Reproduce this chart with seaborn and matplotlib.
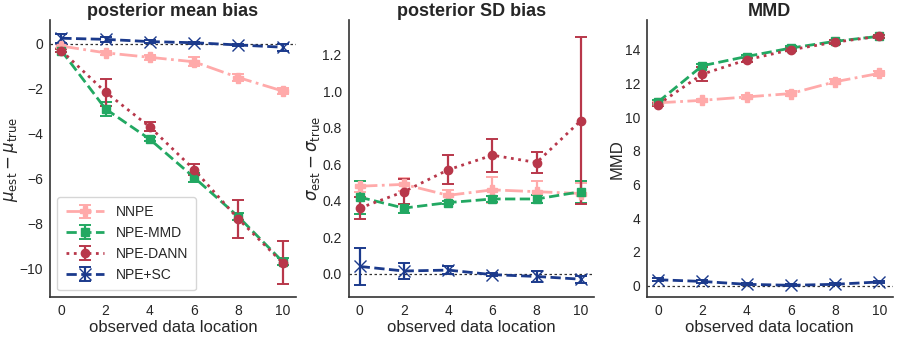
import matplotlib
matplotlib.use("Agg")
import matplotlib.pyplot as plt
import numpy as np
import seaborn as sns

locations = [0, 2, 4, 6, 8, 10]
methods = ["NNPE", "NPE-MMD", "NPE-DANN", "NPE+SC"]

# posterior mean bias (value, error)
mean_bias = {
    "NNPE":     [-0.1, -0.4, -0.6, -0.8, -1.5, -2.1],
    "NPE-MMD":  [-0.3, -2.9, -4.25, -5.95, -7.7, -9.7],
    "NPE-DANN": [-0.3, -2.15, -3.7, -5.6, -7.8, -9.75],
    "NPE+SC":   [0.25, 0.2, 0.1, 0.05, -0.05, -0.15],
}
mean_bias_err = {
    "NNPE":     [0.1, 0.1, 0.1, 0.2, 0.15, 0.12],
    "NPE-MMD":  [0.05, 0.3, 0.1, 0.2, 0.15, 0.15],
    "NPE-DANN": [0.05, 0.6, 0.2, 0.25, 0.85, 0.95],
    "NPE+SC":   [0.2, 0.1, 0.05, 0.05, 0.05, 0.15],
}

# posterior SD bias
sd_bias = {
    "NNPE":     [0.48, 0.49, 0.43, 0.46, 0.45, 0.44],
    "NPE-MMD":  [0.42, 0.36, 0.39, 0.41, 0.41, 0.45],
    "NPE-DANN": [0.36, 0.45, 0.57, 0.65, 0.61, 0.84],
    "NPE+SC":   [0.04, 0.015, 0.02, -0.005, -0.015, -0.03],
}
sd_bias_err = {
    "NNPE":     [0.03, 0.035, 0.03, 0.07, 0.06, 0.06],
    "NPE-MMD":  [0.09, 0.025, 0.01, 0.015, 0.02, 0.06],
    "NPE-DANN": [0.06, 0.07, 0.08, 0.09, 0.06, 0.46],
    "NPE+SC":   [0.1, 0.045, 0.02, 0.01, 0.03, 0.02],
}

# MMD
mmd = {
    "NNPE":     [10.85, 11.0, 11.2, 11.4, 12.1, 12.6],
    "NPE-MMD":  [10.9, 13.05, 13.6, 14.1, 14.5, 14.8],
    "NPE-DANN": [10.75, 12.55, 13.4, 14.0, 14.45, 14.8],
    "NPE+SC":   [0.35, 0.25, 0.08, 0.02, 0.08, 0.22],
}
mmd_err = {
    "NNPE":     [0.1, 0.1, 0.1, 0.15, 0.15, 0.15],
    "NPE-MMD":  [0.1, 0.1, 0.1, 0.1, 0.1, 0.1],
    "NPE-DANN": [0.1, 0.4, 0.1, 0.1, 0.1, 0.1],
    "NPE+SC":   [0.1, 0.08, 0.05, 0.05, 0.05, 0.08],
}

styles = {
    "NNPE":     dict(color="#ffaaaa", marker="P", linestyle="-.", markersize=7),
    "NPE-MMD":  dict(color="#22a862", marker="s", linestyle="--", markersize=6),
    "NPE-DANN": dict(color="#b8374a", marker="o", linestyle=":", markersize=6),
    "NPE+SC":   dict(color="#1b3a8c", marker="x", linestyle="--", markersize=8),
}

sns.set_style("white")
plt.rcParams["font.family"] = ["Liberation Sans", "DejaVu Sans"]
plt.rcParams["mathtext.fontset"] = "dejavusans"

fig, axes = plt.subplots(1, 3, figsize=(8.97, 3.38), dpi=100)

panels = [
    (mean_bias, mean_bias_err, "posterior mean bias",
     r"$\mu_{\rm est} - \mu_{\rm true}$", (-11.3, 1.05)),
    (sd_bias, sd_bias_err, "posterior SD bias",
     r"$\sigma_{\rm est} - \sigma_{\rm true}$", (-0.13, 1.39)),
    (mmd, mmd_err, "MMD", "MMD", (-0.7, 15.75)),
]

for ax, (vals, errs, title, ylabel, ylim) in zip(axes, panels):
    ax.axhline(0, color="#333333", linestyle=(0, (2, 2)), linewidth=0.9, zorder=1)
    for m in methods:
        ax.errorbar(locations, vals[m], yerr=errs[m], capsize=4,
                    linewidth=2, elinewidth=1.6, capthick=1.4,
                    label=m, zorder=3, **styles[m])
    ax.set_title(title, fontsize=13, fontweight="bold", pad=3)
    ax.set_xlabel("observed data location", fontsize=12, labelpad=1)
    ax.set_ylabel(ylabel, fontsize=12, labelpad=0)
    ax.set_xticks(locations)
    ax.set_xlim(-0.5, 10.6)
    ax.set_ylim(*ylim)
    ax.tick_params(labelsize=10, length=0, pad=5)
    for s in ("left", "bottom"):
        ax.spines[s].set_color("#333333")
        ax.spines[s].set_linewidth(1.2)
    sns.despine(ax=ax)

axes[1].set_yticks([0.0, 0.2, 0.4, 0.6, 0.8, 1.0, 1.2])
axes[2].set_yticks([0, 2, 4, 6, 8, 10, 12, 14])
axes[0].legend(loc="lower left", fontsize=10, handlelength=2.8, borderpad=0.6)

fig.subplots_adjust(left=0.056, right=0.995, top=0.94, bottom=0.12, wspace=0.215)
fig.savefig("out.png", dpi=100)
